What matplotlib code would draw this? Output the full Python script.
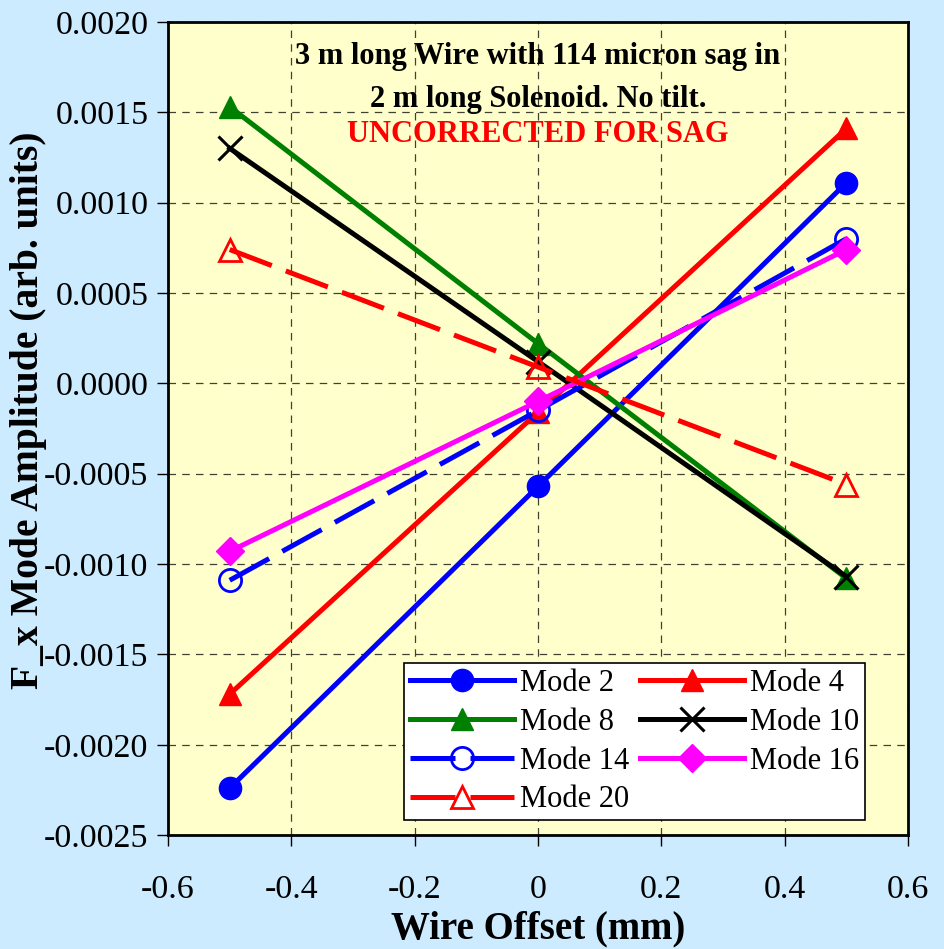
import matplotlib.pyplot as plt

plt.rcParams['font.family'] = ['Liberation Serif', 'DejaVu Serif']

offsets = [-0.5, 0.0, 0.5]
mode2 = [-0.00224, -0.00057, 0.00111]
mode4 = [-0.00172, -0.00016, 0.00141]
mode8 = [0.00153, 0.00022, -0.00108]
mode10 = [0.00130, 0.00012, -0.00107]
mode14 = [-0.00109, -0.00015, 0.00080]
mode16 = [-0.00093, -0.00010, 0.00074]
mode20 = [0.00074, 0.00009, -0.00056]

fig = plt.figure(figsize=(9.44, 9.49), dpi=100, facecolor='#CCEBFF')
ax = fig.add_axes([0.178, 0.12, 0.784, 0.857], facecolor='#FFFFCC')

lw = 3.6
dash = (0, (9, 3))
h2, = ax.plot(offsets, mode2, color='blue', lw=lw, marker='o', ms=16, label='Mode 2')
h4, = ax.plot(offsets, mode4, color='red', lw=lw, marker='^', ms=16, label='Mode 4')
h8, = ax.plot(offsets, mode8, color='green', lw=lw, marker='^', ms=16, label='Mode 8')
h10, = ax.plot(offsets, mode10, color='black', lw=lw, marker='x', ms=17, mew=2.2, label='Mode 10')
h14, = ax.plot(offsets, mode14, color='blue', lw=lw, ls=dash, marker='o', ms=16, mfc='none', mew=2,
               label='Mode 14')
h16, = ax.plot(offsets, mode16, color='magenta', lw=lw, marker='D', ms=14, label='Mode 16')
h20, = ax.plot(offsets, mode20, color='red', lw=lw, ls=dash, marker='^', ms=16, mfc='none', mew=2,
               label='Mode 20')

ax.set_xlim(-0.6, 0.6)
ax.set_ylim(-0.0025, 0.002)
ax.set_xticks([-0.6, -0.4, -0.2, 0, 0.2, 0.4, 0.6])
ax.set_xticklabels(['-0.6', '-0.4', '-0.2', '0', '0.2', '0.4', '0.6'])
yt = [-0.0025, -0.002, -0.0015, -0.001, -0.0005, 0, 0.0005, 0.001, 0.0015, 0.002]
ax.set_yticks(yt)
ax.set_yticklabels([f'{v:.4f}' for v in yt])
ax.tick_params(labelsize=24.5, length=8, width=1, direction='out')
ax.tick_params(axis='x', pad=20)
ax.tick_params(axis='y', pad=6)
ax.grid(True, color='black', ls=(0, (6, 5)), lw=0.9, alpha=0.75)
for s in ax.spines.values():
    s.set_linewidth(2)

ax.set_xlabel('Wire Offset (mm)', fontsize=28, fontweight='bold')
ax.xaxis.set_label_coords(0.5, -0.092)
ax.set_ylabel('F_x Mode Amplitude (arb. units)', fontsize=28.5, fontweight='bold')
ax.yaxis.set_label_coords(-0.164, 0.523)

ax.text(0.5, 0.957, '3 m long Wire with 114 micron sag in', transform=ax.transAxes,
        ha='center', va='center', fontsize=22, fontweight='bold')
ax.text(0.5, 0.905, '2 m long Solenoid. No tilt.', transform=ax.transAxes,
        ha='center', va='center', fontsize=22, fontweight='bold')
ax.text(0.5, 0.862, 'UNCORRECTED FOR SAG', transform=ax.transAxes, ha='center', va='center',
        fontsize=22, fontweight='bold', color='red')

handles = [h2, h8, h14, h20, h4, h10, h16]
leg = ax.legend(handles=handles, loc='lower right', ncol=2, fontsize=22, frameon=True,
                fancybox=False, edgecolor='black', framealpha=1, handlelength=3.4,
                handletextpad=0.2, columnspacing=0.35, labelspacing=0.32, borderpad=0.2,
                borderaxespad=0, bbox_to_anchor=(0.942, 0.018))
leg.get_frame().set_linewidth(1.2)

fig.savefig('out.png', dpi=100, facecolor=fig.get_facecolor())
